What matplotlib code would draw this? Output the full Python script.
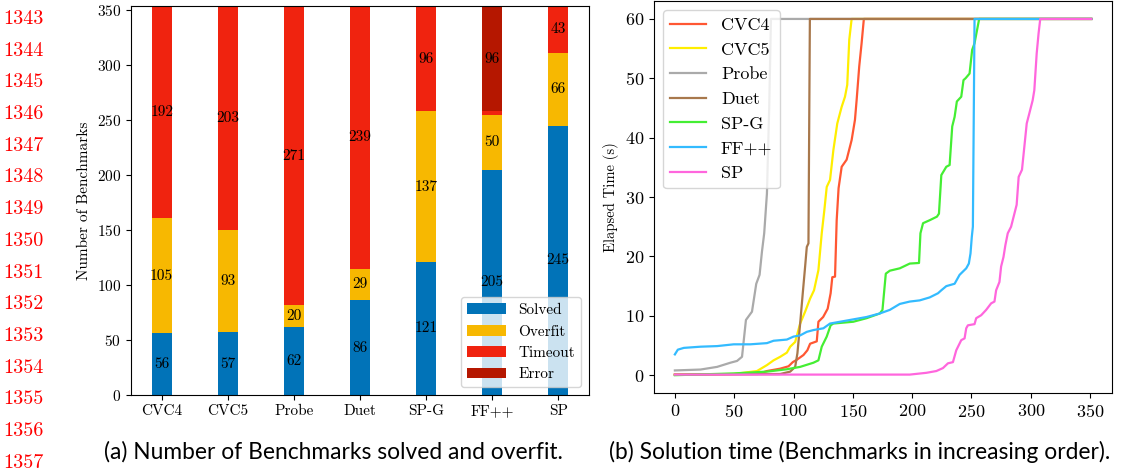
import matplotlib.pyplot as plt
import numpy as np

plt.rcParams['font.family'] = 'cmr10'
plt.rcParams['axes.formatter.use_mathtext'] = True

# ---------------- data (a): outcome per tool ----------------
tools = ['CVC4', 'CVC5', 'Probe', 'Duet', 'SP-G', 'FF++', 'SP']
solved = [56, 57, 62, 86, 121, 205, 245]
overfit = [105, 93, 20, 29, 137, 50, 66]
timeout = [192, 203, 271, 239, 96, 3, 43]
error = [0, 0, 0, 0, 0, 96, 0]

# ---------------- data (b): sorted solution times ----------------
cvc4_x = [0, 70, 77.6, 88.8, 95.8, 99.4, 102.8, 108.4, 111.7, 114, 119.6, 121, 125, 128.8, 131.3, 132.7, 135,
          136.4, 138, 140.6, 144.8, 149, 151.8, 153.2, 155.4, 157.4, 159.3, 351]
cvc4_y = [0.1, 0.2, 0.7, 1.1, 1.5, 2.2, 2.6, 3.4, 4.2, 5.3, 5.7, 9.0, 9.8, 11.2, 13.8, 16.5, 16.6,
          26.1, 31.5, 35.1, 36.3, 39.6, 43.0, 46.3, 52.0, 55.9, 60, 60]
cvc5_x = [0, 49.6, 69.2, 77.6, 83.2, 88.8, 94.4, 97.2, 101.4, 105.6, 109.8, 114, 117.3, 121, 123.8, 126, 128,
          130.8, 133.6, 136.9, 140.6, 143.4, 145.3, 147, 149, 351]
cvc5_y = [0.1, 0.2, 0.7, 1.7, 2.5, 3.1, 3.8, 4.8, 5.6, 8.7, 10.7, 12.9, 14.3, 17.7, 23.9, 27.8, 31.7,
          32.9, 37.9, 42.4, 45.2, 46.9, 48.9, 56.5, 60, 60]
probe_x = [0, 21.6, 35.6, 46.8, 52.4, 56.6, 59.9, 65, 68.6, 71.4, 73.4, 75.3, 77.6, 79.5, 81, 351]
probe_y = [0.8, 0.95, 1.4, 2.1, 2.4, 3.1, 9.3, 10.7, 15.4, 16.9, 20.8, 23.9, 30.6, 45, 60, 60]
duet_x = [0, 88.8, 97.2, 101.4, 103.3, 105.6, 107.8, 109.8, 111.2, 112.6, 113.8, 351]
duet_y = [0.1, 0.2, 0.6, 1.4, 3.7, 8.7, 13.8, 18.3, 21.6, 22.2, 60, 60]
spg_x = [0, 49.6, 77.6, 94.4, 105.6, 116.8, 121, 123.8, 128, 131.3, 133.6, 150.4, 161.6, 172.8, 175, 177.8,
         181.2, 189.6, 198, 205.8, 207, 209.2, 214.8, 220.9, 222.6, 224.6, 228.8, 231.6, 233.8, 235.8,
         237.7, 241.4, 243.3, 245, 248.4, 250.6, 252.6, 256.5, 351]
spg_y = [0, 0.3, 0.6, 1.0, 1.4, 2.1, 2.5, 4.8, 6.5, 8.4, 8.7, 9.0, 9.6, 10.4, 11.0, 17.1,
         17.6, 18.0, 18.8, 18.9, 23.9, 25.6, 26.1, 26.7, 27.2, 33.7, 35.1, 35.4, 41.9, 43.5,
         46.1, 46.9, 49.7, 50.0, 50.8, 54.8, 55.9, 60, 60]
ff_x = [0, 2.5, 7.6, 21.6, 35.6, 49.6, 63.6, 77.6, 83.2, 94.4, 100, 105.6, 111.2, 116.8, 125.2, 130.8, 139.2,
        150.4, 161.6, 172.8, 181.2, 189.6, 198, 206.4, 214.8, 221.8, 224.6, 228.8, 235.8, 240, 245.6,
        247.8, 249.2, 250.3, 251.2, 252.6, 351]
ff_y = [3.5, 4.3, 4.6, 4.8, 4.9, 5.2, 5.2, 5.4, 5.8, 6.0, 6.5, 6.7, 7.3, 7.6, 7.9, 8.7, 9.0,
        9.4, 9.8, 10.4, 11.0, 12.0, 12.4, 12.6, 13.1, 13.8, 14.3, 15.0, 15.4, 16.9, 18.0,
        18.8, 20.5, 23.3, 25.0, 60, 60]
sp_x = [0, 198, 212, 220.4, 226, 230.2, 234.4, 237.2, 241.4, 244.2, 245.6, 247, 252.6, 254, 258.2, 262.4,
        266.6, 269.4, 270.8, 273.6, 275, 277, 278.6, 280.6, 283.4, 286.2, 288.1, 289.8, 292.6, 294.6,
        296.6, 298.8, 301.6, 303, 305, 306.6, 308, 351]
sp_y = [0.1, 0.1, 0.4, 0.7, 1.2, 2.0, 2.2, 4.2, 5.9, 6.2, 7.9, 8.4, 8.6, 9.6, 10.1, 11.0,
        12.1, 12.4, 14.3, 15.7, 18.3, 19.9, 21.9, 23.9, 25.0, 27.2, 28.7, 33.4, 34.6, 38.5,
        42.4, 44.1, 46.3, 48.0, 54.2, 57.6, 60, 60]

line_numbers = list(range(1343, 1358))

# ---------------- figure ----------------
fig = plt.figure(figsize=(11.24, 4.71), dpi=100)
ax1 = fig.add_axes([0.1165, 0.1614, 0.4075, 0.826])
ax2 = fig.add_axes([0.5819, 0.1656, 0.4075, 0.832])

# (a) stacked bars
x = np.arange(len(tools))
cols = {'Solved': '#0173b8', 'Overfit': '#f7b801', 'Timeout': '#f0230f', 'Error': '#b51700'}
bottom = np.zeros(len(tools))
for name, vals in [('Solved', solved), ('Overfit', overfit), ('Timeout', timeout), ('Error', error)]:
    bars = ax1.bar(x, vals, 0.3, bottom=bottom, color=cols[name], label=name)
    labs = [str(v) if v >= 5 else '' for v in vals]
    ax1.bar_label(bars, labels=labs, label_type='center', fontsize=11)
    bottom += np.array(vals)
ax1.set_ylim(0, 354)
ax1.set_xticks(x)
ax1.set_xticklabels(tools, fontsize=11)
ax1.tick_params(axis='y', labelsize=11)
ax1.set_ylabel('Number of Benchmarks', fontsize=11)
ax1.legend(loc='lower right', fontsize=11, handlelength=2.6)

# (b) cactus plot
series = [('CVC4', cvc4_x, cvc4_y, '#ff5733'), ('CVC5', cvc5_x, cvc5_y, '#ffee00'),
          ('Probe', probe_x, probe_y, '#aaaaaa'), ('Duet', duet_x, duet_y, '#a8784c'),
          ('SP-G', spg_x, spg_y, '#44ee33'), ('FF++', ff_x, ff_y, '#33bbff'),
          ('SP', sp_x, sp_y, '#ff66dd')]
for name, xs, ys, c in series:
    ax2.plot(xs, ys, color=c, lw=1.6, label=name)
ax2.set_ylabel('Elapsed Time (s)', fontsize=10.5)
ax2.tick_params(labelsize=13)
ax2.set_xticks([0, 50, 100, 150, 200, 250, 300, 350])
ax2.legend(loc='upper left', fontsize=13)

# captions and the paper's line numbers
fig.text(0.2967, 0.04, '(a) Number of Benchmarks solved and overfit.', ha='center', va='center',
         family='Lato', fontsize=16.4)
fig.text(0.7647, 0.04, '(b) Solution time (Benchmarks in increasing order).', ha='center', va='center',
         family='Lato', fontsize=16.4)
for i, n in enumerate(line_numbers):
    fig.text(0.021, 1 - (19 + i * 31.7) / 471, str(n), color='red', ha='center', va='center',
             fontsize=14.5)

fig.savefig('out.png', dpi=100)
